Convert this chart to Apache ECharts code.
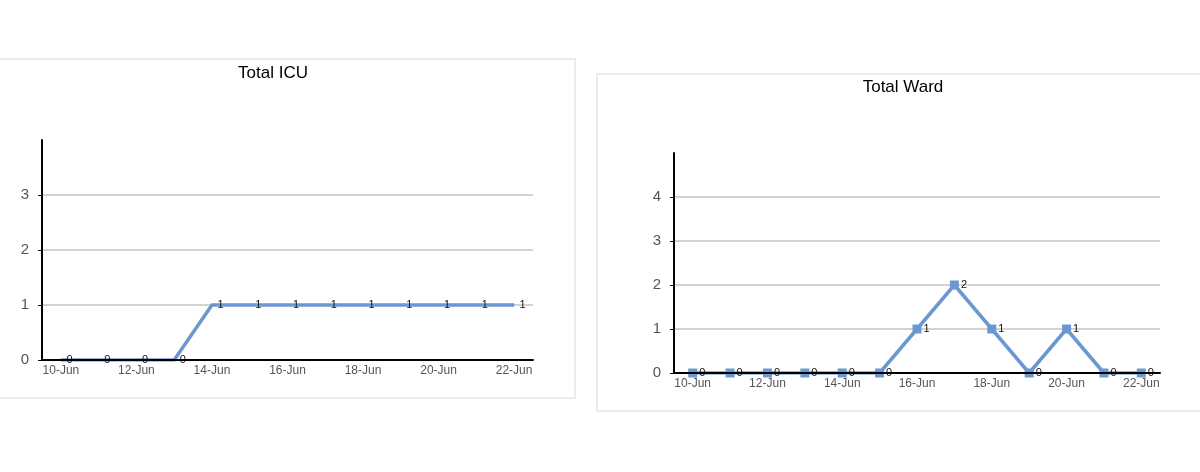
<!DOCTYPE html>
<html>
<head>
<meta charset="utf-8">
<title>Total ICU / Total Ward</title>
<script src="https://cdn.jsdelivr.net/npm/echarts@6/dist/echarts.min.js"></script>
<style>
  html, body { margin: 0; padding: 0; background: #fff; }
  #main { width: 1200px; height: 472px; }
</style>
</head>
<body>
<div id="main"></div>
<script>
// dates shared by both panels
var days = ['10-Jun', '11-Jun', '12-Jun', '13-Jun', '14-Jun', '15-Jun', '16-Jun',
            '17-Jun', '18-Jun', '19-Jun', '20-Jun', '21-Jun', '22-Jun'];
var icuValues = [0, 0, 0, 0, 1, 1, 1, 1, 1, 1, 1, 1, 1];
var wardValues = [0, 0, 0, 0, 0, 0, 1, 2, 1, 0, 1, 0, 0];
var icuTicks = { min: 0, max: 4, step: 1 };
var wardTicks = { min: 0, max: 5, step: 1 };

var lineColor = '#6b98d1';
var font = '"Liberation Sans", Arial, sans-serif';

var myChart = echarts.init(document.getElementById('main'));

function xAxisFor(gridIndex) {
  return {
    type: 'category',
    gridIndex: gridIndex,
    data: days,
    boundaryGap: true,
    z: 5,
    axisLine: { lineStyle: { color: '#000', width: 2 } },
    axisTick: { interval: 0, length: 4, lineStyle: { color: '#000', width: 1 } },
    axisLabel: { interval: 1, color: '#555', fontSize: 12, fontFamily: font, margin: 5 },
    splitLine: { show: false }
  };
}

function yAxisFor(gridIndex, t) {
  return {
    type: 'value',
    gridIndex: gridIndex,
    min: t.min,
    max: t.max,
    interval: t.step,
    axisLine: { show: true, lineStyle: { color: '#000', width: 2 } },
    axisTick: { show: true, length: 4, lineStyle: { color: '#000' } },
    axisLabel: { color: '#555', fontSize: 15, fontFamily: font, margin: 13, showMaxLabel: false },
    splitLine: { show: true, showMaxLine: false, showMinLine: false, lineStyle: { color: '#c4c4c4', width: 1.5 } }
  };
}

function lineSeries(name, idx, values, withMarkers) {
  return {
    name: name,
    type: 'line',
    xAxisIndex: idx,
    yAxisIndex: idx,
    data: values,
    symbol: 'rect',
    symbolSize: withMarkers ? 9 : 1,
    showAllSymbol: true,
    lineStyle: { color: lineColor, width: 3.5 },
    itemStyle: { color: lineColor },
    label: {
      show: true,
      position: 'right',
      distance: withMarkers ? 2 : 5,
      color: '#111',
      fontSize: 11,
      fontFamily: font
    },
    animation: false,
    z: 3
  };
}

var option = {
  backgroundColor: '#fff',
  animation: false,
  graphic: [
    // panel frames
    { type: 'rect', shape: { x: -10, y: 59, width: 585, height: 339 },
      style: { fill: '#fff', stroke: '#ececec', lineWidth: 2 }, z: -10 },
    { type: 'rect', shape: { x: 597, y: 74, width: 620, height: 337 },
      style: { fill: '#fff', stroke: '#ececec', lineWidth: 2 }, z: -10 }
  ],
  title: [
    { text: 'Total ICU', left: 268, top: 60, textAlign: 'center',
      textStyle: { fontSize: 17, fontWeight: 'normal', color: '#000', fontFamily: font } },
    { text: 'Total Ward', left: 898, top: 74, textAlign: 'center',
      textStyle: { fontSize: 17, fontWeight: 'normal', color: '#000', fontFamily: font } }
  ],
  grid: [
    { left: 42, right: 667, top: 140, bottom: 112 },
    { left: 674, right: 40, top: 153, bottom: 99 }
  ],
  xAxis: [xAxisFor(0), xAxisFor(1)],
  yAxis: [yAxisFor(0, icuTicks), yAxisFor(1, wardTicks)],
  series: [
    lineSeries('Total ICU', 0, icuValues, false),
    lineSeries('Total Ward', 1, wardValues, true)
  ]
};

myChart.setOption(option);
</script>
</body>
</html>
